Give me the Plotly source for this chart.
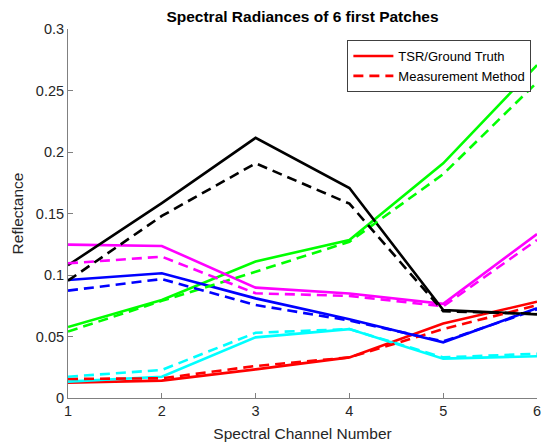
import plotly.graph_objects as go

channels = [1, 2, 3, 4, 5, 6]

# Ground truth (TSR) reflectance per patch
truth_red = [0.0125, 0.0141, 0.0233, 0.0330, 0.0605, 0.0783]
truth_green = [0.0577, 0.0797, 0.1110, 0.1285, 0.1908, 0.2707]
truth_blue = [0.0959, 0.1014, 0.0810, 0.0640, 0.0453, 0.0730]
truth_cyan = [0.0133, 0.0173, 0.0493, 0.0560, 0.0320, 0.0340]
truth_magenta = [0.1247, 0.1236, 0.0897, 0.0850, 0.0766, 0.1333]
truth_black = [0.1079, 0.1585, 0.2115, 0.1707, 0.0715, 0.0680]

# Reflectance from the measurement method
meas_red = [0.0155, 0.0160, 0.0260, 0.0330, 0.0560, 0.0755]
meas_green = [0.0540, 0.0790, 0.1027, 0.1270, 0.1820, 0.2566]
meas_blue = [0.0873, 0.0967, 0.0756, 0.0630, 0.0460, 0.0720]
meas_cyan = [0.0173, 0.0228, 0.0530, 0.0560, 0.0330, 0.0360]
meas_magenta = [0.1095, 0.1149, 0.0851, 0.0830, 0.0745, 0.1285]
meas_black = [0.0954, 0.1480, 0.1908, 0.1580, 0.0705, 0.0685]

y_ticks = [0, 0.05, 0.1, 0.15, 0.2, 0.25, 0.3]
y_tick_text = ["0", "0.05", "0.1", "0.15", "0.2", "0.25", "0.3"]

series = [
    ("#ff0000", truth_red, meas_red),
    ("#00ff00", truth_green, meas_green),
    ("#0000ff", truth_blue, meas_blue),
    ("#00ffff", truth_cyan, meas_cyan),
    ("#ff00ff", truth_magenta, meas_magenta),
    ("#000000", truth_black, meas_black),
]

fig = go.Figure()
for i, (color, truth, meas) in enumerate(series):
    fig.add_trace(go.Scatter(
        x=channels, y=truth, mode="lines",
        line=dict(color=color, width=2.6),
        name="TSR/Ground Truth", showlegend=(i == 0),
    ))
for i, (color, truth, meas) in enumerate(series):
    fig.add_trace(go.Scatter(
        x=channels, y=meas, mode="lines",
        line=dict(color=color, width=2.6, dash="10px,6px"),
        name="Measurement Method", showlegend=(i == 0),
    ))

font_family = "Liberation Sans, Arial, sans-serif"
axis_common = dict(
    showgrid=False, zeroline=False, showline=True,
    linecolor="#808080", linewidth=1,
    ticks="inside", ticklen=5, tickcolor="#808080",
    tickfont=dict(family=font_family, size=14.5, color="#262626"),
    mirror=False, automargin=False,
)

fig.update_layout(
    width=544, height=444,
    margin=dict(l=68, r=7, t=29, b=46),
    paper_bgcolor="white", plot_bgcolor="white",
    title=dict(
        text="<b>Spectral Radiances of 6 first Patches</b>",
        x=(68 + 537) / 2 / 544, xanchor="center",
        y=1 - 17 / 444, yanchor="middle",
        font=dict(family=font_family, size=15.5, color="#000000"),
    ),
    xaxis=dict(
        range=[1, 6], tickvals=channels,
        title=dict(text="Spectral Channel Number", standoff=9,
                   font=dict(family=font_family, size=15.5, color="#262626")),
        **axis_common,
    ),
    yaxis=dict(
        range=[0, 0.3], tickvals=y_ticks, ticktext=y_tick_text,
        title=dict(text="Reflectance", standoff=8,
                   font=dict(family=font_family, size=15.5, color="#262626")),
        **axis_common,
    ),
    legend=dict(
        x=0.988, y=0.97, xanchor="right", yanchor="top",
        bgcolor="white", bordercolor="#404040", borderwidth=1,
        font=dict(family=font_family, size=13, color="#000000"),
        tracegroupgap=0, itemwidth=40,
    ),
)

fig.write_html("out.html")
